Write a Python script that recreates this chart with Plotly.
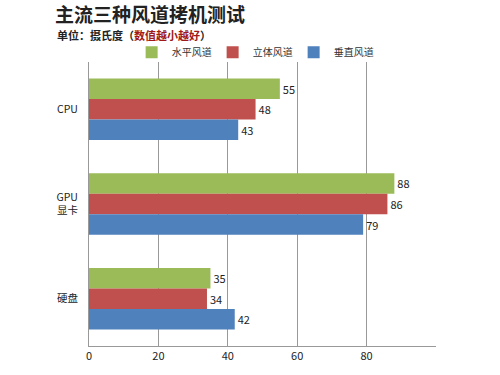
import plotly.graph_objects as go

categories = ["CPU", "GPU<br>显卡", "硬盘"]
series_names = ["水平风道", "立体风道", "垂直风道"]
horizontal = [55, 88, 35]
stereo = [48, 86, 34]
vertical = [43, 79, 42]
colors = ["#9BBB59", "#C0504D", "#4F81BD"]
x_ticks = [0, 20, 40, 60, 80, 100]
x_ticktext = ["0", "20", "40", "60", "80", ""]

font_cjk = "Noto Sans CJK SC, Noto Sans, sans-serif"

fig = go.Figure()
for name, vals, col in zip(series_names, [horizontal, stereo, vertical], colors):
    fig.add_trace(go.Bar(
        name=name, x=vals, y=categories, orientation="h",
        marker=dict(color=col, line=dict(width=0)),
        text=[str(v) for v in vals], textposition="outside",
        textfont=dict(size=11, color="#222"), cliponaxis=False,
    ))

fig.update_layout(
    width=500, height=375,
    margin=dict(l=89, r=64, t=62, b=21),
    paper_bgcolor="white", plot_bgcolor="white",
    barmode="group", bargap=0.35, bargroupgap=0,
    font=dict(family=font_cjk, size=11, color="#222"),
    showlegend=True,
    title=dict(text="<b>主流三种风道拷机测试</b>", x=0.11, xanchor="left", xref="container",
               y=1 - 15 / 375, yanchor="middle", yref="container",
               font=dict(size=19, color="#222", family=font_cjk)),
    legend=dict(orientation="h", x=0.473, xanchor="center", y=1.034, yanchor="middle",
                yref="paper", font=dict(size=10, color="#333"), traceorder="normal",
                itemwidth=30, bgcolor="rgba(0,0,0,0)", entrywidth=36),
    xaxis=dict(range=[0, 100], tickvals=x_ticks, ticktext=x_ticktext,
               showgrid=True, gridcolor="#999", gridwidth=1,
               showline=True, linecolor="#999", zeroline=False,
               tickfont=dict(size=11, color="#222"), ticks=""),
    yaxis=dict(autorange="reversed", showline=True, linecolor="#999",
               ticks="", tickfont=dict(size=10.5, color="#222"), ticklabelstandoff=8),
)

fig.add_annotation(text="<b>单位：摄氏度（<span style='color:#A01818'>数值越小越好</span>）</b>",
                   xref="paper", yref="paper", x=0, xshift=-34, y=1.0, yshift=27,
                   xanchor="left", yanchor="middle", showarrow=False,
                   font=dict(size=11, color="#222", family=font_cjk))

fig.write_html("out.html")
